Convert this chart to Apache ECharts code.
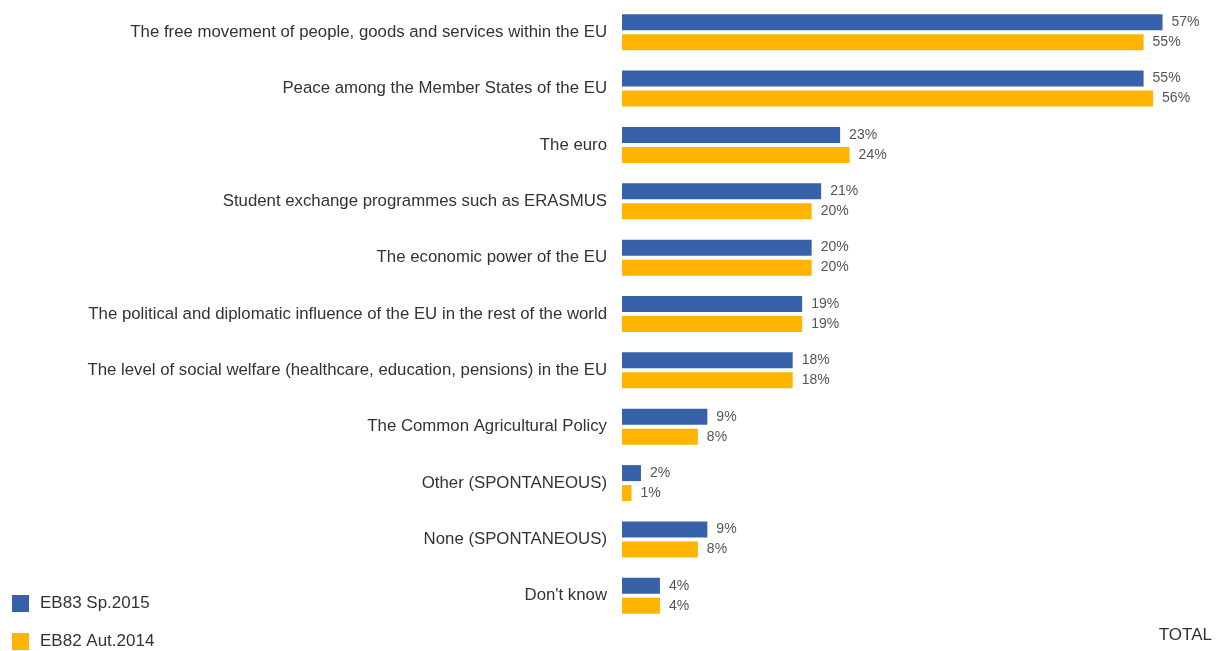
<!DOCTYPE html>
<html><head><meta charset="utf-8">
<script src="https://cdn.jsdelivr.net/npm/echarts@6/dist/echarts.min.js"></script>
<style>html,body{margin:0;padding:0;background:#fff}#c{width:1221px;height:651px}</style>
</head><body><div id="c"></div>
<script>
var categories = [
  "The free movement of people, goods and services within the EU",
  "Peace among the Member States of the EU",
  "The euro",
  "Student exchange programmes such as ERASMUS",
  "The economic power of the EU",
  "The political and diplomatic influence of the EU in the rest of the world",
  "The level of social welfare (healthcare, education, pensions) in the EU",
  "The Common Agricultural Policy",
  "Other (SPONTANEOUS)",
  "None (SPONTANEOUS)",
  "Don't know"
];
var seriesNames = ["EB83 Sp.2015", "EB82 Aut.2014"];
var eb83 = [57, 55, 23, 21, 20, 19, 18, 9, 2, 9, 4];
var eb82 = [55, 56, 24, 20, 20, 19, 18, 8, 1, 8, 4];

var chart = echarts.init(document.getElementById('c'));
var font = 'Liberation Sans, Arial, sans-serif';
var lbl = {show: true, position: 'right', distance: 9, formatter: '{c}%', color: '#555', fontSize: 14, fontFamily: font};
var legendBase = {
  orient: 'vertical', left: 7, itemWidth: 17, itemHeight: 17, itemGap: 7,
  icon: 'rect', textStyle: {fontSize: 17, color: '#333', fontFamily: font, padding: [0, 0, 0, 6]}
};
chart.setOption({
  animation: false,
  grid: {left: 622, right: 30, top: 4, height: 620, containLabel: false},
  legend: [
    Object.assign({}, legendBase, {top: 590, data: [seriesNames[0]]}),
    Object.assign({}, legendBase, {top: 628, data: [seriesNames[1]]})
  ],
  xAxis: {type: 'value', min: 0, max: 60, show: false},
  yAxis: {
    type: 'category', data: categories, inverse: true,
    axisLine: {show: false}, axisTick: {show: false},
    axisLabel: {fontSize: 16.8, color: '#333', fontFamily: font, margin: 15}
  },
  series: [
    {name: seriesNames[0], type: 'bar', data: eb83, barWidth: 16, barGap: '25%',
     itemStyle: {color: '#3762AA'}, label: lbl},
    {name: seriesNames[1], type: 'bar', data: eb82, barWidth: 16,
     itemStyle: {color: '#FFB400'}, label: lbl}
  ],
  graphic: [{type: 'text', right: 9, top: 627, style: {text: 'TOTAL', fontSize: 17, fill: '#333', fontFamily: font}}]
});
</script></body></html>
